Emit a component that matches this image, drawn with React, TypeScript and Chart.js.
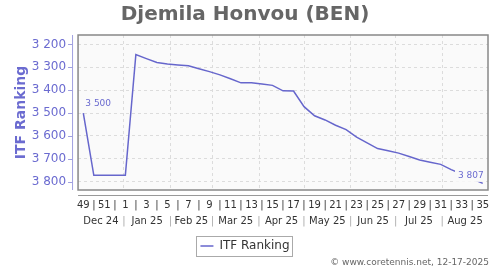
import React, { useEffect, useRef } from "react";
import { Chart, registerables } from "chart.js";

Chart.register(...registerables);

const FONT = "DejaVu Sans";
const LINE = "#6666cc";
const LAV = "#6b6bd0";

// ISO week numbers (Dec 2024 -> Aug 2025)
const weeks = [49, 50, 51, 52, 1, 2, 3, 4, 5, 6, 7, 8, 9, 10, 11, 12, 13, 14, 15, 16, 17, 18, 19, 20, 21, 22, 23, 24, 25, 26, 27, 28, 29, 30, 31, 32, 33, 34, 35];
// ITF ranking per week
const ranking = [3500, 3772, 3772, 3772, 3772, 3244, 3262, 3279, 3286, 3290, 3293, 3306, 3319, 3333, 3350, 3368, 3368, 3373, 3379, 3403, 3404, 3472, 3512, 3530, 3553, 3572, 3605, 3630, 3655, 3665, 3675, 3690, 3705, 3715, 3724, 3747, 3766, 3787, 3807];
// y-axis ticks
const yTicks = [3200, 3300, 3400, 3500, 3600, 3700, 3800];
// Month labels and the date each week's point refers to
const firstWeekDate = "2024-12-05";
const monthStarts = ["2025-01-01", "2025-02-01", "2025-03-01", "2025-04-01", "2025-05-01", "2025-06-01", "2025-07-01", "2025-08-01"];
const monthLabels = ["Dec 24", "Jan 25", "Feb 25", "Mar 25", "Apr 25", "May 25", "Jun 25", "Jul 25", "Aug 25"];
const footerText = "© www.coretennis.net, 12-17-2025";

const fmt = (v: number) => String(Math.round(v)).replace(/\B(?=(\d{3})+(?!\d))/g, " ");

export default function App() {
  const ref = useRef<HTMLCanvasElement | null>(null);

  useEffect(() => {
    document.body.style.margin = "0";
    const canvas = ref.current!;
    const DAY = 86400000;
    const t0 = Date.parse(firstWeekDate);
    const lo = -0.5;
    const hi = weeks.length - 0.5;
    const bounds = monthStarts.map((d) => (Date.parse(d) - t0) / (7 * DAY));
    const edges = [lo, ...bounds, hi];
    const monthTickValues: number[] = [];
    const monthTickLabels: string[] = [];
    monthLabels.forEach((m, i) => {
      monthTickValues.push((edges[i] + edges[i + 1]) / 2);
      monthTickLabels.push(m);
      if (i < bounds.length) {
        monthTickValues.push(bounds[i]);
        monthTickLabels.push("|");
      }
    });

    const decor = {
      id: "decor",
      beforeDraw(chart: any) {
        const { ctx, chartArea: a } = chart;
        ctx.save();
        ctx.fillStyle = "#fafafa";
        ctx.fillRect(a.left, a.top, a.right - a.left, a.bottom - a.top);
        ctx.restore();
      },
      beforeDatasetsDraw(chart: any) {
        const { ctx, chartArea: a } = chart;
        ctx.save();
        ctx.strokeStyle = "#888";
        ctx.lineWidth = 1.5;
        ctx.strokeRect(a.left, a.top, a.right - a.left, a.bottom - a.top);
        // detached y axis line
        ctx.strokeStyle = "#a0a0e0";
        ctx.lineWidth = 1;
        ctx.beginPath();
        ctx.moveTo(a.left - 5.5, a.top);
        ctx.lineTo(a.left - 5.5, a.bottom);
        ctx.stroke();
        const ys = chart.scales.y;
        ys.ticks.forEach((t: any) => {
          const py = Math.round(ys.getPixelForValue(t.value)) + 0.5;
          ctx.beginPath();
          ctx.moveTo(a.left - 10, py);
          ctx.lineTo(a.left - 5.5, py);
          ctx.stroke();
        });
        // detached x axis line
        ctx.strokeStyle = "#999";
        ctx.beginPath();
        ctx.moveTo(a.left, a.bottom + 5.5);
        ctx.lineTo(a.right, a.bottom + 5.5);
        ctx.stroke();
        ctx.restore();
      },
      afterDatasetsDraw(chart: any) {
        const { ctx } = chart;
        const meta = chart.getDatasetMeta(0);
        const first = meta.data[0];
        const last = meta.data[meta.data.length - 1];
        ctx.save();
        ctx.font = `9px "${FONT}"`;
        ctx.textBaseline = "middle";
        ctx.fillStyle = LAV;
        ctx.textAlign = "left";
        ctx.fillText(fmt(ranking[0]), first.x + 2, first.y - 9);
        const lt = fmt(ranking[ranking.length - 1]);
        const w = ctx.measureText(lt).width;
        const rx = last.x + 1;
        const ry = last.y - 7.5;
        ctx.fillStyle = "#fafafa";
        ctx.fillRect(rx - w - 3, ry - 6, w + 3, 12);
        ctx.fillStyle = LAV;
        ctx.textAlign = "right";
        ctx.fillText(lt, rx, ry);
        ctx.restore();
      },
      afterDraw(chart: any) {
        const { ctx } = chart;
        ctx.save();
        const hb = chart.legend && chart.legend.legendHitBoxes && chart.legend.legendHitBoxes[0];
        if (hb) {
          ctx.strokeStyle = "#aaa";
          ctx.lineWidth = 1;
          ctx.strokeRect(Math.round(hb.left - 4) + 0.5, Math.round(hb.top - 4) + 0.5, Math.round(hb.width + 7), Math.round(hb.height + 8));
        }
        ctx.font = `9px "${FONT}"`;
        ctx.fillStyle = "#666";
        ctx.textAlign = "right";
        ctx.textBaseline = "middle";
        ctx.fillText(footerText, chart.width - 11, chart.height - 7);
        ctx.restore();
      },
    };

    const chart = new Chart(canvas, {
      type: "line",
      data: {
        labels: weeks.map(String),
        datasets: [
          {
            label: "ITF Ranking",
            data: ranking,
            borderColor: LINE,
            backgroundColor: LINE,
            borderWidth: 1.5,
            pointRadius: 0,
            tension: 0,
            xAxisID: "x",
            yAxisID: "y",
          },
        ],
      },
      options: {
        responsive: false,
        animation: false,
        events: [],
        layout: { padding: { left: 2, right: 12, top: 0, bottom: 8 } },
        plugins: {
          title: {
            display: true,
            text: "Djemila Honvou (BEN)",
            color: "#666",
            font: { family: FONT, size: 20, weight: "bold" },
            padding: { top: 3, bottom: 8 },
          },
          legend: {
            position: "bottom",
            labels: {
              usePointStyle: true,
              pointStyle: "line",
              pointStyleWidth: 13,
              color: "#333",
              font: { family: FONT, size: 12 },
              padding: 9,
            },
          },
          tooltip: { enabled: false },
        },
        scales: {
          x: {
            type: "category",
            position: "bottom",
            offset: true,
            weight: 0,
            grid: { display: false, drawTicks: false },
            border: { display: false },
            afterFit: (s: any) => {
              s.height = 21;
            },
            ticks: {
              autoSkip: false,
              maxRotation: 0,
              padding: 9,
              color: "#333",
              font: { family: FONT, size: 10 },
              callback: (_v: any, i: number) => (i % 2 === 0 ? String(weeks[i]) : "|"),
            },
          },
          x2: {
            type: "linear",
            position: "bottom",
            min: lo,
            max: hi,
            weight: 1,
            grid: {
              display: true,
              drawOnChartArea: true,
              drawTicks: false,
              color: (c: any) => (c.index % 2 === 1 ? "#dcdcdc" : "rgba(0,0,0,0)"),
            },
            border: { display: false, dash: [3, 3] },
            afterBuildTicks: (s: any) => {
              s.ticks = monthTickValues.map((v) => ({ value: v }));
            },
            ticks: {
              autoSkip: false,
              maxRotation: 0,
              padding: 4,
              color: (c: any) => (c.index % 2 === 1 ? "#aaa" : "#333"),
              font: { family: FONT, size: 10 },
              callback: (_v: any, i: number) => monthTickLabels[i],
            },
          },
          y: {
            type: "linear",
            reverse: true,
            min: 3159,
            max: 3836,
            afterBuildTicks: (s: any) => {
              s.ticks = yTicks.map((v) => ({ value: v }));
            },
            grid: { color: "#dcdcdc", drawTicks: false },
            border: { display: false, dash: [3, 3] },
            title: {
              display: true,
              text: "ITF Ranking",
              color: LAV,
              font: { family: FONT, size: 14, weight: "bold" },
              padding: { top: 10.6, bottom: -9.7 },
            },
            ticks: {
              padding: 12,
              color: LAV,
              font: { family: FONT, size: 12 },
              callback: (v: any) => fmt(Number(v)),
            },
          },
        },
      },
      plugins: [decor],
    } as any);

    return () => chart.destroy();
  }, []);

  return <canvas ref={ref} width={500} height={270} style={{ display: "block", width: 500, height: 270 }} />;
}
